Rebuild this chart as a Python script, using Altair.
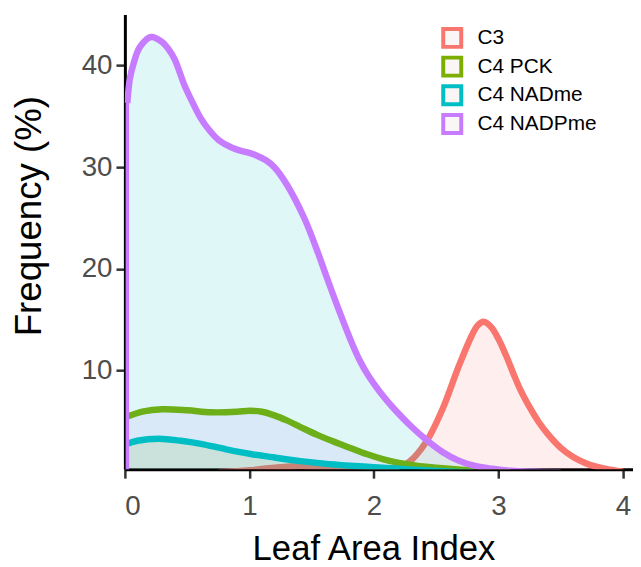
import altair as alt
import pandas as pd

series = ["C3", "C4 PCK", "C4 NADme", "C4 NADPme"]
line_colors = ["#F8766D", "#7CAE00", "#00BFC4", "#C77CFF"]
fill_colors = ["#F8766D", "#C77CFF", "#7CAE00", "#00BFC4"]

c3_x = [0.75, 1.0, 1.2, 1.4, 1.6, 1.8, 2.0, 2.15, 2.28, 2.42, 2.55, 2.68, 2.78, 2.83,
        2.88, 2.94, 3.0, 3.06, 3.12, 3.18, 3.25, 3.32, 3.4, 3.5, 3.6, 3.7, 3.8, 3.9, 4.0]
c3_y = [0.0, 0.2, 0.45, 0.6, 0.5, 0.25, 0.15, 0.4, 1.0, 3.0, 6.2, 10.4, 13.3, 14.4,
        14.8, 14.3, 13.1, 11.5, 9.7, 8.0, 6.4, 5.0, 3.7, 2.4, 1.5, 0.9, 0.5, 0.25, 0.05]

pck_x = [0.02, 0.15, 0.3, 0.5, 0.69, 0.9, 1.0, 1.1, 1.2, 1.3, 1.41, 1.54, 1.67, 1.81,
         1.94, 2.07, 2.2, 2.34, 2.5, 2.7, 2.9, 3.1]
pck_y = [5.5, 6.0, 6.2, 6.1, 5.9, 5.95, 6.05, 5.95, 5.6, 5.1, 4.45, 3.7, 3.05, 2.4,
         1.8, 1.3, 0.92, 0.65, 0.45, 0.25, 0.1, 0.0]

nadme_x = [0.02, 0.1, 0.27, 0.45, 0.61, 0.8, 1.01, 1.2, 1.41, 1.6, 1.81, 2.0, 2.2,
           2.4, 2.6, 2.8]
nadme_y = [2.8, 3.1, 3.3, 3.1, 2.8, 2.3, 1.8, 1.45, 1.1, 0.85, 0.65, 0.5, 0.35,
           0.2, 0.08, 0.0]

nadpme_x = [0.02, 0.04, 0.07, 0.12, 0.21, 0.3, 0.35, 0.4, 0.48, 0.55, 0.61, 0.68,
            0.75, 0.83, 0.906, 1.0, 1.065, 1.13, 1.2, 1.3, 1.44, 1.55, 1.62, 1.72,
            1.83, 1.89, 1.95, 2.0, 2.08, 2.15, 2.3, 2.42, 2.55, 2.68, 2.82, 2.95,
            3.1, 3.3, 3.5]
nadpme_y = [36.3, 38.7, 40.2, 41.8, 42.8, 42.3, 41.6, 40.6, 38.0, 36.2, 34.8, 33.6,
            32.7, 32.1, 31.7, 31.4, 31.1, 30.7, 30.0, 28.3, 25.0, 21.6, 19.2, 15.9,
            12.5, 10.9, 9.6, 8.7, 7.4, 6.4, 4.5, 3.2, 2.0, 1.15, 0.6, 0.35,
            0.15, 0.05, 0.0]

x_ticks = [0, 1, 2, 3, 4]
y_ticks = [10, 20, 30, 40]

xs = [c3_x, pck_x, nadme_x, nadpme_x]
ys = [c3_y, pck_y, nadme_y, nadpme_y]

x_scale = alt.Scale(domain=[0, 4.08], nice=False, zero=False)
y_scale = alt.Scale(domain=[0.3, 45], nice=False, zero=False)
stroke_scale = alt.Scale(domain=series, range=line_colors)

legend = alt.Legend(
    title=None, orient="none", legendX=319, legendY=12,
    symbolType="square", symbolSize=330, symbolStrokeWidth=4,
    symbolFillColor="#fbf6f6", labelFontSize=21, labelFont="Liberation Sans",
    labelColor="#000000", labelOffset=14, rowPadding=-9, padding=0,
)

xax = alt.Axis(values=x_ticks, format="d", title="Leaf Area Index", grid=False,
               titleX=251, titleY=91, titleBaseline="alphabetic", titleFontSize=35)
yax = alt.Axis(values=y_ticks, format="d", title="Frequency (%)", grid=False,
               titleX=-85, titleY=203, titleAngle=-90, titleBaseline="alphabetic",
               titleAlign="center", titleFontSize=37)

interp = "catmull-rom"
layers = []
for i, s in enumerate(series):
    df = pd.DataFrame({"x": xs[i], "y": ys[i], "series": s})
    area = alt.Chart(df).mark_area(
        interpolate=interp, color=fill_colors[i], fillOpacity=0.12, clip=True
    ).encode(
        x=alt.X("x:Q", scale=x_scale, axis=xax),
        y=alt.Y("y:Q", scale=y_scale, axis=yax, stack=None),
    )
    line = alt.Chart(df).mark_line(
        interpolate=interp, strokeWidth=6.5, clip=True
    ).encode(
        x=alt.X("x:Q", scale=x_scale),
        y=alt.Y("y:Q", scale=y_scale),
        stroke=alt.Stroke("series:N", scale=stroke_scale, legend=legend),
    )
    layers += [area, line]

edge_df = pd.DataFrame({"x": [nadpme_x[0]], "y0": [0.0], "y1": [nadpme_y[0]]})
edge = alt.Chart(edge_df).mark_rule(color="#C77CFF", strokeWidth=3.5, clip=True).encode(
    x=alt.X("x:Q", scale=x_scale),
    y=alt.Y("y0:Q", scale=y_scale),
    y2="y1:Q",
)
layers.append(edge)

chart = alt.layer(*layers).properties(
    width=513, height=459,
    autosize=alt.AutoSizeParams(type="none"),
    padding={"left": 118, "top": 4, "right": 0, "bottom": 95},
).configure_view(strokeWidth=0).configure_axis(
    domainColor="#000000", domainWidth=3, tickColor="#333333", tickWidth=2.5,
    tickSize=9, labelColor="#4D4D4D", labelFontSize=28, labelFont="Liberation Sans",
    labelPadding=4, titleFont="Liberation Sans",
    titleFontWeight="normal", titleColor="#000000",
).configure_axisBottom(labelPadding=15)

chart.save("out.html", embed_options={"renderer": "svg", "actions": False})
